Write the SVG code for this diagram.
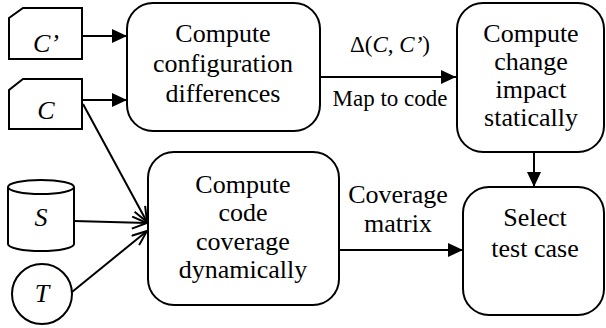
<svg xmlns="http://www.w3.org/2000/svg" width="606" height="328" viewBox="0 0 606 328">
<defs>
<marker id="fa" markerUnits="userSpaceOnUse" markerWidth="16" markerHeight="14" refX="15" refY="7" orient="auto">
<path d="M0,0 L15,7 L0,14 Z" fill="#000" stroke="none"/>
</marker>
<marker id="oa" markerUnits="userSpaceOnUse" markerWidth="18" markerHeight="14" refX="16" refY="7" orient="auto">
<path d="M1,1 L16,7 L1,13" fill="none" stroke="#000" stroke-width="2"/>
</marker>
</defs>
<g id="edges" fill="none" stroke="#000" stroke-width="2">
<line x1="82" y1="36" x2="127" y2="36" marker-end="url(#fa)"/>
<line x1="82" y1="100" x2="127" y2="100" marker-end="url(#fa)"/>
<line x1="320" y1="77" x2="456" y2="77" marker-end="url(#fa)"/>
<line x1="534" y1="152" x2="534" y2="187" marker-end="url(#fa)"/>
<line x1="339" y1="250" x2="463" y2="250" marker-end="url(#fa)"/>
<line x1="83" y1="104" x2="147" y2="222" marker-end="url(#oa)"/>
<line x1="74" y1="221" x2="147" y2="223" marker-end="url(#oa)"/>
<line x1="72" y1="292" x2="147" y2="231" marker-end="url(#oa)"/>
</g>
<g id="edge-labels" fill="#000" text-anchor="middle">
<text style="font-family:'Liberation Serif',serif" font-family="Liberation Serif" font-size="23" x="390" y="52">Δ(<tspan font-style="italic">C</tspan>, <tspan font-style="italic">C’</tspan>)</text>
<text style="font-family:'Liberation Serif',serif" font-family="Liberation Serif" font-size="23" x="390" y="106">Map to code</text>
<text style="font-family:'Liberation Serif',serif" font-family="Liberation Serif" font-size="26" x="398" y="203">Coverage</text>
<text style="font-family:'Liberation Serif',serif" font-family="Liberation Serif" font-size="26" x="398" y="232">matrix</text>
</g>
<g id="cprime">
<polygon fill="#fff" stroke="#000" stroke-width="2" points="23,8 82,8 82,59 9,59 9,18"/>
<text style="font-family:'Liberation Serif',serif" font-family="Liberation Serif" font-size="26" font-style="italic" text-anchor="middle" x="46" y="52">C’</text>
</g>
<g id="c">
<polygon fill="#fff" stroke="#000" stroke-width="2" points="23,79 82,79 82,129 9,129 9,90"/>
<text style="font-family:'Liberation Serif',serif" font-family="Liberation Serif" font-size="26" font-style="italic" text-anchor="middle" x="46" y="119">C</text>
</g>
<g id="s">
<path fill="#fff" stroke="#000" stroke-width="2" d="M8,187 L8,244 A33,7 0 0 0 74,244 L74,187"/>
<ellipse fill="#fff" stroke="#000" stroke-width="2" cx="41" cy="187" rx="33" ry="7"/>
<text style="font-family:'Liberation Serif',serif" font-family="Liberation Serif" font-size="26" font-style="italic" text-anchor="middle" x="41" y="226">S</text>
</g>
<g id="t">
<circle fill="#fff" stroke="#000" stroke-width="2" cx="42" cy="294" r="30"/>
<text style="font-family:'Liberation Serif',serif" font-family="Liberation Serif" font-size="26" font-style="italic" text-anchor="middle" x="42" y="302">T</text>
</g>
<g id="diff" text-anchor="middle">
<rect fill="#fff" stroke="#000" stroke-width="2" x="127" y="3" width="193" height="128" rx="26"/>
<text style="font-family:'Liberation Serif',serif" font-family="Liberation Serif" font-size="26" x="223" y="42">Compute</text>
<text style="font-family:'Liberation Serif',serif" font-family="Liberation Serif" font-size="26" x="223" y="72">configuration</text>
<text style="font-family:'Liberation Serif',serif" font-family="Liberation Serif" font-size="26" x="223" y="102">differences</text>
</g>
<g id="impact" text-anchor="middle">
<rect fill="#fff" stroke="#000" stroke-width="2" x="457" y="3" width="147" height="149" rx="26"/>
<text style="font-family:'Liberation Serif',serif" font-family="Liberation Serif" font-size="26" x="531" y="42">Compute</text>
<text style="font-family:'Liberation Serif',serif" font-family="Liberation Serif" font-size="26" x="531" y="70">change</text>
<text style="font-family:'Liberation Serif',serif" font-family="Liberation Serif" font-size="26" x="531" y="98">impact</text>
<text style="font-family:'Liberation Serif',serif" font-family="Liberation Serif" font-size="26" x="531" y="126">statically</text>
</g>
<g id="coverage" text-anchor="middle">
<rect fill="#fff" stroke="#000" stroke-width="2" x="148" y="152" width="191" height="153" rx="26"/>
<text style="font-family:'Liberation Serif',serif" font-family="Liberation Serif" font-size="26" x="243" y="193">Compute</text>
<text style="font-family:'Liberation Serif',serif" font-family="Liberation Serif" font-size="26" x="243" y="221">code</text>
<text style="font-family:'Liberation Serif',serif" font-family="Liberation Serif" font-size="26" x="243" y="250">coverage</text>
<text style="font-family:'Liberation Serif',serif" font-family="Liberation Serif" font-size="26" x="243" y="278">dynamically</text>
</g>
<g id="select" text-anchor="middle">
<rect fill="#fff" stroke="#000" stroke-width="2" x="463" y="187" width="141" height="128" rx="26"/>
<text style="font-family:'Liberation Serif',serif" font-family="Liberation Serif" font-size="26" x="535" y="226">Select</text>
<text style="font-family:'Liberation Serif',serif" font-family="Liberation Serif" font-size="26" x="535" y="257">test case</text>
</g>
</svg>
